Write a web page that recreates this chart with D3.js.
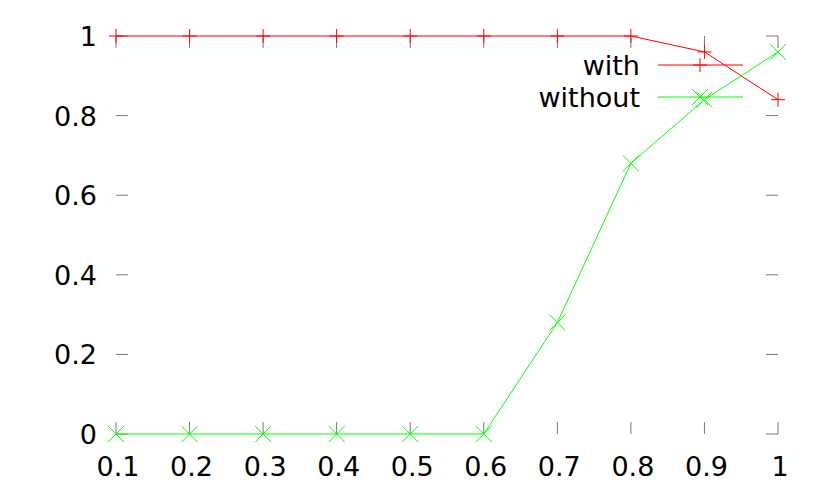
<!DOCTYPE html>
<html>
<head>
<meta charset="utf-8">
<script src="https://cdn.jsdelivr.net/npm/d3@7"></script>
<style>
  body { margin: 0; background: #fff; }
  svg { display: block; font-family: "DejaVu Sans", sans-serif; }
</style>
</head>
<body>
<svg id="chart" width="830" height="498"></svg>
<script>
// data
const xValues = [0.1, 0.2, 0.3, 0.4, 0.5, 0.6, 0.7, 0.8, 0.9, 1];
const withValues = [1, 1, 1, 1, 1, 1, 1, 1, 0.96, 0.84];
const withoutValues = [0, 0, 0, 0, 0, 0, 0.28, 0.68, 0.84, 0.96];
const xTicks = [0.1, 0.2, 0.3, 0.4, 0.5, 0.6, 0.7, 0.8, 0.9, 1];
const yTicks = [0, 0.2, 0.4, 0.6, 0.8, 1];
const seriesNames = ["with", "without"];

const svg = d3.select("#chart");
const plot = { left: 116, right: 778, top: 36, bottom: 434 };
const tickLen = 12;
const fontSize = 27;

const x = d3.scaleLinear().domain([0.1, 1]).range([plot.left, plot.right]);
const y = d3.scaleLinear().domain([0, 1]).range([plot.bottom, plot.top]);

const fmt = d => String(+d.toFixed(1));

// ticks, gnuplot-ish: on all four sides, pointing inward, no border
const tickG = svg.append("g").attr("stroke", "#777").attr("stroke-width", 1);
xTicks.forEach(t => {
  tickG.append("line").attr("x1", x(t)).attr("x2", x(t)).attr("y1", plot.bottom).attr("y2", plot.bottom - tickLen);
  tickG.append("line").attr("x1", x(t)).attr("x2", x(t)).attr("y1", plot.top).attr("y2", plot.top + tickLen);
});
yTicks.forEach(t => {
  tickG.append("line").attr("x1", plot.left).attr("x2", plot.left + tickLen).attr("y1", y(t)).attr("y2", y(t));
  tickG.append("line").attr("x1", plot.right).attr("x2", plot.right - tickLen).attr("y1", y(t)).attr("y2", y(t));
});

// tick labels
svg.append("g").selectAll("text").data(xTicks).join("text")
  .attr("x", d => x(d) + 2).attr("y", 476)
  .attr("text-anchor", "middle").attr("font-size", fontSize).attr("fill", "#000")
  .text(fmt);
svg.append("g").selectAll("text").data(yTicks).join("text")
  .attr("x", 97).attr("y", d => y(d) + 10)
  .attr("text-anchor", "end").attr("font-size", fontSize).attr("fill", "#000")
  .text(fmt);

// markers
function plus(g, cx, cy, color) {
  const s = 7;
  g.append("path").attr("d", `M${cx - s},${cy}H${cx + s}M${cx},${cy - s}V${cy + s}`)
    .attr("stroke", color).attr("fill", "none");
}
function cross(g, cx, cy, color) {
  const s = 8;
  g.append("path").attr("d", `M${cx - s},${cy - s}L${cx + s},${cy + s}M${cx - s},${cy + s}L${cx + s},${cy - s}`)
    .attr("stroke", color).attr("fill", "none");
}

const series = [
  { name: seriesNames[0], values: withValues, color: "#ff0000", marker: plus },
  { name: seriesNames[1], values: withoutValues, color: "#00ff00", marker: cross }
];

const line = d3.line().x((d, i) => x(xValues[i])).y(d => y(d));

series.forEach((s, k) => {
  const g = svg.append("g");
  g.append("path").datum(s.values).attr("d", line)
    .attr("fill", "none").attr("stroke", s.color).attr("stroke-width", 1);
  s.values.forEach((v, i) => s.marker(g, x(xValues[i]), y(v), s.color));

  // legend entry
  const ly = 65 + k * 32;
  g.append("text").attr("x", 640).attr("y", ly + 10)
    .attr("text-anchor", "end").attr("font-size", fontSize).attr("fill", "#000").text(s.name);
  g.append("line").attr("x1", 658).attr("x2", 743).attr("y1", ly).attr("y2", ly)
    .attr("stroke", s.color).attr("stroke-width", 1);
  s.marker(g, 700, ly, s.color);
});
</script>
</body>
</html>
